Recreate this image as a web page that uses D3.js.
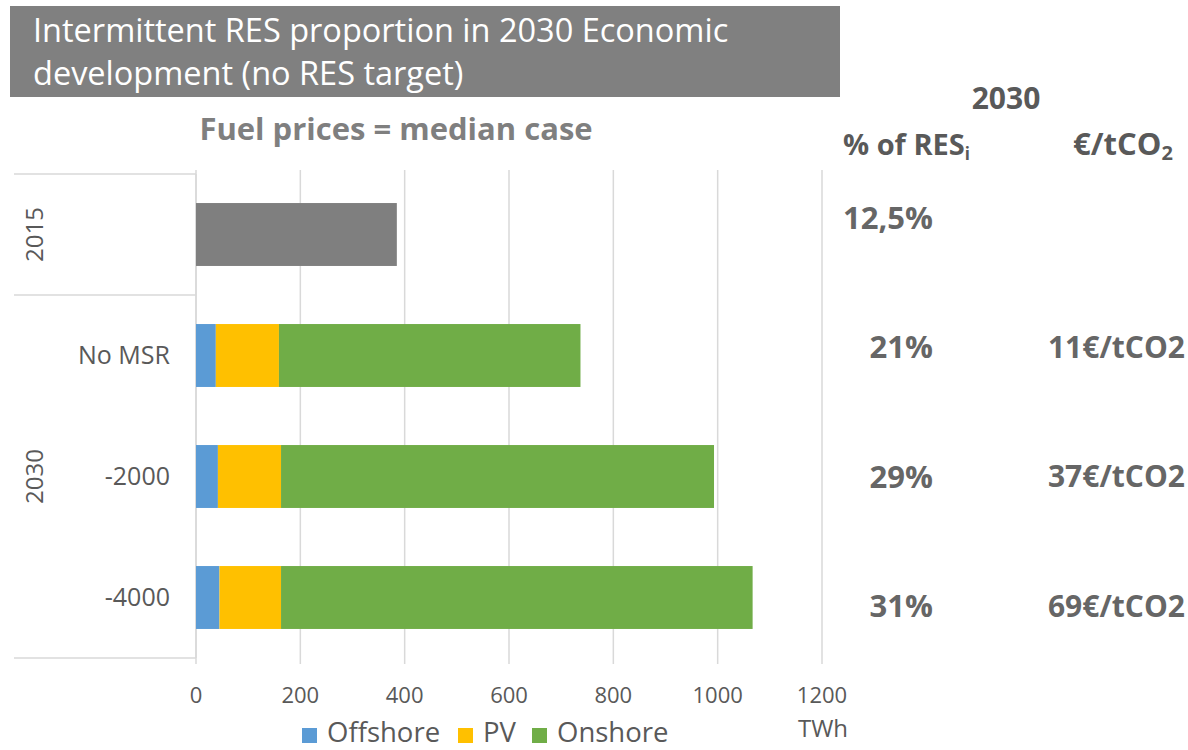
<!DOCTYPE html>
<html lang="en">
<head>
<meta charset="UTF-8">
<title>Intermittent RES proportion</title>
<script src="https://cdn.jsdelivr.net/npm/d3@7/dist/d3.min.js"></script>
<style>
	body { margin: 0; background: #fff; }
	text { font-family: "Open Sans", Lato, sans-serif; }
</style>
</head>
<body>
<div id="chart"></div>
<script>
// categories (bottom level) and their group
const categories = ['2015', 'No MSR', '-2000', '-4000'];
const groups = [
	{ name: '2015', members: ['2015'] },
	{ name: '2030', members: ['No MSR', '-2000', '-4000'] }
];
// series values, TWh
const offshore = [0, 38, 42, 45];
const pv = [0, 121, 121, 118];
const onshore = [0, 578, 830, 904];
const total2015 = [385, 0, 0, 0];
const xTicks = [0, 200, 400, 600, 800, 1000, 1200];
// side table
const resShare = ['12,5%', '21%', '29%', '31%'];
const co2Price = ['', '11€/tCO2', '37€/tCO2', '69€/tCO2'];

const width = 1188, height = 750;
const keys = ['Offshore', 'PV', 'Onshore', 'Total'];
const colors = { Offshore: '#5b9bd5', PV: '#ffc000', Onshore: '#70ad47', Total: '#7f7f7f' };

const rows = categories.map((c, i) => ({
	cat: c, Offshore: offshore[i], PV: pv[i], Onshore: onshore[i], Total: total2015[i]
}));

const svg = d3.select('#chart').append('svg')
	.attr('width', width)
	.attr('height', height);

const x = d3.scaleLinear().domain([0, 1200]).range([196, 822]);
const y = d3.scaleBand().domain(categories).range([174, 658])
	.paddingInner(0.48).paddingOuter(0.24);
// rows of the side table
const yTable = d3.scalePoint().domain(categories).range([218, 606]);

// title box
svg.append('rect')
	.attr('x', 10).attr('y', 6).attr('width', 830).attr('height', 91)
	.attr('fill', '#808080');
svg.append('text')
	.attr('x', 33).attr('y', 42)
	.attr('fill', '#fff').attr('font-size', 32.5)
	.text('Intermittent RES proportion in 2030 Economic');
svg.append('text')
	.attr('x', 33).attr('y', 85)
	.attr('fill', '#fff').attr('font-size', 32.5)
	.text('development (no RES target)');

svg.append('text')
	.attr('x', 396).attr('y', 140)
	.attr('text-anchor', 'middle')
	.attr('fill', '#7f7f7f').attr('font-size', 31).attr('font-weight', 'bold')
	.text('Fuel prices = median case');

// gridlines
svg.append('g').selectAll('line').data(xTicks).join('line')
	.attr('x1', d => x(d)).attr('x2', d => x(d))
	.attr('y1', 170).attr('y2', 664)
	.attr('stroke', '#d9d9d9').attr('stroke-width', 1.5);

// category axis with group separators
const gap = (y.step() - y.bandwidth()) / 2;
const sepY = [y.range()[0], y('No MSR') - gap, y.range()[1]];
svg.append('g').selectAll('line').data(sepY).join('line')
	.attr('x1', 14).attr('x2', x(0))
	.attr('y1', d => d).attr('y2', d => d)
	.attr('stroke', '#d9d9d9').attr('stroke-width', 1.5);
svg.append('line')
	.attr('x1', x(0)).attr('x2', x(0))
	.attr('y1', y.range()[0]).attr('y2', y.range()[1])
	.attr('stroke', '#d9d9d9').attr('stroke-width', 1.5);

// stacked bars
const stacked = d3.stack().keys(keys)(rows);
svg.append('g').selectAll('g').data(stacked).join('g')
	.attr('fill', d => colors[d.key])
	.selectAll('rect').data(d => d).join('rect')
	.attr('x', d => x(d[0]))
	.attr('y', d => y(d.data.cat))
	.attr('width', d => x(d[1]) - x(d[0]))
	.attr('height', y.bandwidth());

// category labels
svg.append('g').selectAll('text').data(categories.slice(1)).join('text')
	.attr('x', 170)
	.attr('y', d => y(d) + y.bandwidth() / 2)
	.attr('dy', '0.35em')
	.attr('text-anchor', 'end')
	.attr('fill', '#595959').attr('font-size', 25)
	.text(d => d);

// group labels, rotated
svg.append('g').selectAll('text').data(groups).join('text')
	.attr('transform', d => {
		const first = d.members[0], last = d.members[d.members.length - 1];
		const cy = (y(first) + y(last) + y.bandwidth()) / 2;
		return 'translate(35,' + cy + ') rotate(-90)';
	})
	.attr('dy', '0.35em')
	.attr('text-anchor', 'middle')
	.attr('fill', '#595959').attr('font-size', 24)
	.text(d => d.name);

// x axis labels
svg.append('g').selectAll('text').data(xTicks).join('text')
	.attr('x', d => x(d))
	.attr('y', 703)
	.attr('text-anchor', 'middle')
	.attr('fill', '#595959').attr('font-size', 22)
	.text(d => d);
svg.append('text')
	.attr('x', 823).attr('y', 737)
	.attr('text-anchor', 'middle')
	.attr('fill', '#595959').attr('font-size', 24)
	.text('TWh');

// legend
const legendKeys = ['Offshore', 'PV', 'Onshore'];
const legendX = [302, 458, 532];
const lg = svg.append('g').selectAll('g').data(legendKeys).join('g')
	.attr('transform', (d, i) => 'translate(' + legendX[i] + ',0)');
lg.append('rect')
	.attr('x', 0).attr('y', 728).attr('width', 15).attr('height', 15)
	.attr('fill', d => colors[d]);
lg.append('text')
	.attr('x', 25).attr('y', 742)
	.attr('fill', '#595959').attr('font-size', 27.5)
	.text(d => d);

// side table
svg.append('text')
	.attr('x', 1006).attr('y', 109)
	.attr('text-anchor', 'middle')
	.attr('fill', '#595959').attr('font-size', 30).attr('font-weight', 'bold')
	.text('2030');
const h1 = svg.append('text')
	.attr('x', 843).attr('y', 155)
	.attr('fill', '#595959').attr('font-size', 29).attr('font-weight', 'bold');
h1.append('tspan').text('% of RES');
h1.append('tspan').attr('font-size', 17).attr('dy', 5).text('i');
const h2 = svg.append('text')
	.attr('x', 1073).attr('y', 155)
	.attr('fill', '#595959').attr('font-size', 31).attr('font-weight', 'bold');
h2.append('tspan').text('€/tCO');
h2.append('tspan').attr('font-size', 20).attr('dy', 5).text('2');

svg.append('g').selectAll('text').data(resShare).join('text')
	.attr('x', 933)
	.attr('y', (d, i) => yTable(categories[i]))
	.attr('dy', '0.35em')
	.attr('text-anchor', 'end')
	.attr('fill', '#666').attr('font-size', 31).attr('font-weight', 'bold')
	.text(d => d);
svg.append('g').selectAll('text').data(co2Price).join('text')
	.attr('x', 1185)
	.attr('y', (d, i) => yTable(categories[i]))
	.attr('dy', '0.35em')
	.attr('text-anchor', 'end')
	.attr('fill', '#666').attr('font-size', 30).attr('font-weight', 'bold')
	.text(d => d);
</script>
</body>
</html>
